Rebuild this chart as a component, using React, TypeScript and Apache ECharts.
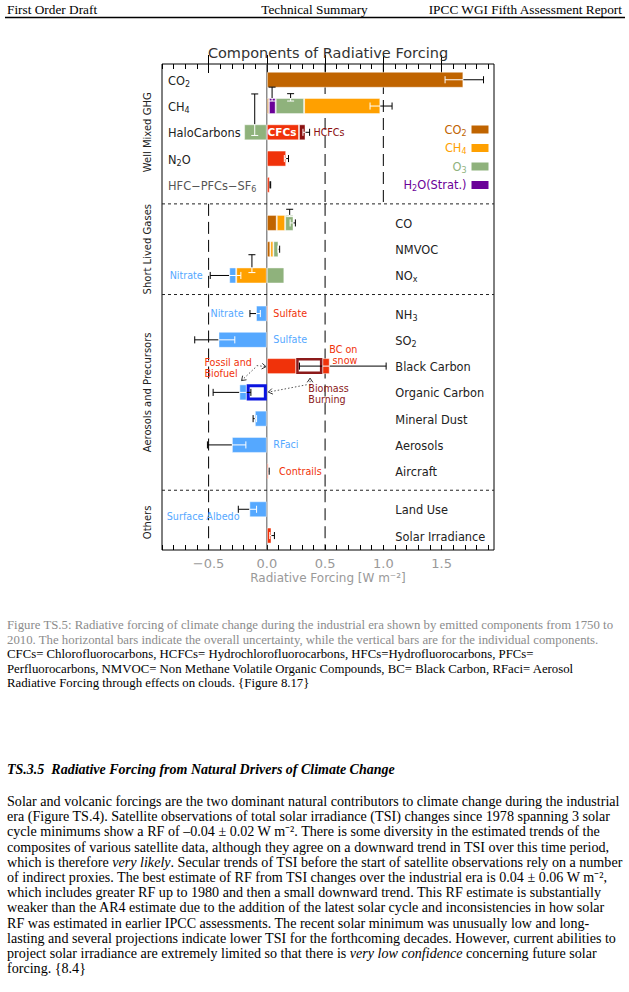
import React, { useEffect, useRef } from "react";
import * as echarts from "echarts";

// ---------------- Chart data (W m-2) ----------------
const rowNames = [
  "CO₂", "CH₄", "HaloCarbons", "N₂O", "HFC−PFCs−SF₆",
  "CO", "NMVOC", "NOₓ",
  "NH₃", "SO₂", "Black Carbon", "Organic Carbon", "Mineral Dust", "Aerosols", "Aircraft",
  "Land Use", "Solar Irradiance",
];
const rowGroup = [0, 0, 0, 0, 0, 1, 1, 1, 2, 2, 2, 2, 2, 2, 2, 3, 3];
const groupNames = ["Well Mixed GHG", "Short Lived Gases", "Aerosols and Precursors", "Others"];
const groupRefLines = [[0.5, 1.0], [-0.5, 0.5], [-0.5, 0.5], [-0.5, 0.5]];
const xTickLabels = [-0.5, 0, 0.5, 1.0, 1.5];

// segments: [row, from, to]
const co2Segments = [[0, 0, 1.687], [1, 0, 0.018], [5, 0, 0.085], [6, 0, 0.03]];
const ch4Segments = [[1, 0.32, 0.974], [5, 0.085, 0.157], [6, 0.03, 0.056], [7, -0.263, 0]];
const o3Segments = [[1, 0.076, 0.32], [2, -0.195, 0], [5, 0.157, 0.229], [6, 0.056, 0.1], [7, 0, 0.15]];
const h2oSegments = [[1, 0.018, 0.076]];
const cfcSegments = [[2, 0, 0.276]];
const hcfcSegments = [[2, 0.276, 0.332]];
const warmSegments = [[3, 0, 0.166], [4, 0, 0.025], [8, 0, 0.012], [10, 0, 0.252], [10, 0.477, 0.54], [14, 0, 0.015], [16, 0, 0.04]];
const coolSegments = [[7, -0.323, -0.263], [8, -0.093, 0], [9, -0.415, 0], [11, -0.236, -0.173], [12, -0.103, 0], [13, -0.3, 0], [15, -0.15, 0]];
const biomassBC = [[10, 0.252, 0.477]];
const biomassOC = [[11, -0.173, 0]];
// overall uncertainty: [row, low, high]
const totalUncertainty = [
  [0, 1.53, 1.86], [1, 0.886, 1.075], [2, 0.31, 0.367], [3, 0.15, 0.186], [4, 0.027, 0.033],
  [5, 0.2, 0.245], [6, 0.095, 0.11], [7, -0.486, -0.223],
  [8, -0.145, -0.056], [9, -0.619, -0.275], [10, 0.28, 1.024], [11, -0.461, -0.137], [12, -0.118, -0.088],
  [13, -0.51, -0.18], [14, 0.012, 0.02], [15, -0.245, -0.088], [16, 0.025, 0.065],
];
// individual components: [row, value, top, bottom] (top/bottom in row units from the row centre)
const componentUncertainty = [
  [1, 0.045, -0.72, -0.19], [1, 0.204, -0.47, -0.19], [2, -0.104, -1.46, 0.12],
  [5, 0.196, -0.52, -0.24], [7, -0.128, -0.79, -0.11],
];
// annotations: [text, row, row offset, value, anchor, colour key]
const notes = [
  ["CFCs", 2, 0, 0.13, "center", "white"],
  ["HCFCs", 2, 0, 0.4, "left", "hcfc"],
  ["Nitrate", 7, 0, -0.55, "right", "blue"],
  ["Nitrate", 8, 0, -0.2, "right", "blue"],
  ["Sulfate", 8, 0, 0.056, "left", "red"],
  ["Sulfate", 9, 0, 0.056, "left", "blue"],
  ["BC on", 10, -0.62, 0.777, "right", "red"],
  ["snow", 10, -0.2, 0.777, "right", "red"],
  ["Fossil and", 10, -0.13, -0.536, "left", "red"],
  ["Biofuel", 10, 0.29, -0.536, "left", "red"],
  ["Biomass", 11, -0.13, 0.356, "left", "bb"],
  ["Burning", 11, 0.29, 0.356, "left", "bb"],
  ["RFaci", 13, 0, 0.056, "left", "blue"],
  ["Contrails", 14, 0, 0.105, "left", "red"],
  ["Surface Albedo", 15, 0.28, -0.859, "left", "blue"],
];
// dotted arrows: [fromValue, fromRow, fromOffset, toValue, toRow, toOffset]
const arrows = [
  [-0.087, 10, -0.02, -0.007, 10, 0.02],
  [-0.1, 10, 0.06, -0.217, 10, 0.55],
  [0.371, 10, 0.75, 0.371, 10, 0.46],
  [0.342, 10, 0.71, 0.013, 11, -0.01],
];

// ---------------- Page text ----------------
const headerLeft = "First Order Draft";
const headerMid = "Technical Summary";
const headerRight = "IPCC WGI Fifth Assessment Report";
const captionLines = [
  "Figure TS.5: Radiative forcing of climate change during the industrial era shown by emitted components from 1750 to",
  "2010. The horizontal bars indicate the overall uncertainty, while the vertical bars are for the individual components.",
  "CFCs= Chlorofluorocarbons, HCFCs= Hydrochlorofluorocarbons, HFCs=Hydrofluorocarbons, PFCs=",
  "Perfluorocarbons, NMVOC= Non Methane Volatile Organic Compounds, BC= Black Carbon, RFaci= Aerosol",
  "Radiative Forcing through effects on clouds. {Figure 8.17}",
];
const sectionHeading = "TS.3.5  Radiative Forcing from Natural Drivers of Climate Change";
const bodyLines: (string | { i: string })[][] = [
  ["Solar and volcanic forcings are the two dominant natural contributors to climate change during the industrial"],
  ["era (Figure TS.4). Satellite observations of total solar irradiance (TSI) changes since 1978 spanning 3 solar"],
  ["cycle minimums show a RF of –0.04 ± 0.02 W m⁻². There is some diversity in the estimated trends of the"],
  ["composites of various satellite data, although they agree on a downward trend in TSI over this time period,"],
  ["which is therefore ", { i: "very likely" }, ". Secular trends of TSI before the start of satellite observations rely on a number"],
  ["of indirect proxies. The best estimate of RF from TSI changes over the industrial era is 0.04 ± 0.06 W m⁻²,"],
  ["which includes greater RF up to 1980 and then a small downward trend. This RF estimate is substantially"],
  ["weaker than the AR4 estimate due to the addition of the latest solar cycle and inconsistencies in how solar"],
  ["RF was estimated in earlier IPCC assessments. The recent solar minimum was unusually low and long-"],
  ["lasting and several projections indicate lower TSI for the forthcoming decades. However, current abilities to"],
  ["project solar irradiance are extremely limited so that there is ", { i: "very low confidence" }, " concerning future solar"],
  ["forcing. {8.4}"],
];

// ---------------- Layout / style ----------------
const X_MIN = -0.9;
const X_MAX = 1.95;
const FIRST_ROW = 0.6;
const GROUP_GAP = 1.45;
const BOTTOM_PAD = 0.55;
const BAR_H = 0.61;
const CAP_H = 0.27;
const LEFT_LABEL_X = -0.848;
const RIGHT_LABEL_X = 1.103;
const GROUP_LABEL_X = -1.028;
const FONT = "DejaVu Sans";
const SERIF = "Liberation Serif";
const BODY_SIZE = 14.1;
const LABEL_SIZE = 11.4;
const C: Record<string, string> = {
  co2: "#c06400", ch4: "#ffa000", o3: "#8fb27c", h2o: "#6a0098",
  red: "#f0320a", hcfc: "#8b1010", blue: "#55a8ff", ocEdge: "#0a14e0", bb: "#8b1a1a",
  white: "#ffffff", ink: "#222222",
};

const rowPos: number[] = [];
rowGroup.forEach((g, i) => {
  rowPos.push(i === 0 ? FIRST_ROW : rowPos[i - 1] + (g !== rowGroup[i - 1] ? GROUP_GAP : 1));
});
const Y_MAX = rowPos[rowPos.length - 1] + BOTTOM_PAD;
const dividers: number[] = [];
rowGroup.forEach((g, i) => {
  if (i > 0 && g !== rowGroup[i - 1]) dividers.push((rowPos[i] + rowPos[i - 1]) / 2);
});
const groupTop = (g: number) => (g === 0 ? 0 : dividers[g - 1]);
const groupBottom = (g: number) => (g === groupNames.length - 1 ? Y_MAX : dividers[g]);
const groupCenter = (g: number) => {
  const rs = rowPos.filter((_, i) => rowGroup[i] === g);
  return (rs[0] + rs[rs.length - 1]) / 2;
};

const solidSegments = [
  ...co2Segments, ...ch4Segments, ...o3Segments, ...h2oSegments,
  ...cfcSegments, ...hcfcSegments, ...warmSegments, ...coolSegments,
];
const isSolid = (row: number, v: number) =>
  solidSegments.some((s) => s[0] === row && v > Math.min(s[1], s[2]) && v < Math.max(s[1], s[2]));

const minorTicks: number[] = [];
for (let k = Math.round(X_MIN * 10); k <= Math.floor(X_MAX * 10); k++) minorTicks.push(k / 10);

const fmt = (v: number) => (v < 0 ? "−" : "") + Math.abs(v).toFixed(1);

// subscript characters -> rich text tokens
const SUBS: Record<string, string> = { "₀": "0", "₁": "1", "₂": "2", "₃": "3", "₄": "4", "₅": "5", "₆": "6", "₇": "7", "₈": "8", "₉": "9", "ₓ": "x" };
function toRich(label: string) {
  let out = "";
  let buf = "";
  let mode = "";
  const flush = () => { if (buf) out += `{${mode}|${buf}}`; buf = ""; };
  for (const ch of label) {
    const m = SUBS[ch] !== undefined ? "s" : "b";
    if (m !== mode) { flush(); mode = m; }
    buf += SUBS[ch] !== undefined ? SUBS[ch] : ch;
  }
  flush();
  return out;
}
function labelRich(fill: string) {
  return {
    b: { fontSize: LABEL_SIZE, fontFamily: FONT, fill, lineHeight: 15, verticalAlign: "middle" },
    s: { fontSize: 8, fontFamily: FONT, fill, lineHeight: 9, verticalAlign: "bottom" },
  };
}
function legendRich(color: string) {
  return {
    b: { fontSize: LABEL_SIZE, fontFamily: FONT, color, lineHeight: 15, verticalAlign: "middle" },
    s: { fontSize: 8, fontFamily: FONT, color, lineHeight: 9, verticalAlign: "bottom" },
  };
}

function textEl(text: string, x: number, y: number, o: any = {}) {
  const align = o.align || "left";
  return {
    type: "text",
    x, y,
    rotation: o.rotation || 0,
    style: {
      text,
      fill: o.fill || "#000",
      fontSize: o.size || 13,
      fontFamily: o.family || SERIF,
      fontStyle: o.italic ? "italic" : "normal",
      fontWeight: o.bold ? "bold" : "normal",
      align, textAlign: align,
      verticalAlign: "middle", textVerticalAlign: "middle",
      rich: o.rich,
    },
  };
}

function barSeries(name: string, parts: number[][], fill: string, stroke: string, lw: number, z: number) {
  return {
    type: "custom",
    name,
    z,
    itemStyle: { color: fill === "#ffffff" ? stroke : fill },
    data: parts.map((p) => [p[1], rowPos[p[0]], p[2]]),
    renderItem: (params: any, api: any) => {
      const y = api.value(1);
      const a = api.coord([api.value(0), y]);
      const b = api.coord([api.value(2), y]);
      const h = Math.abs(api.size([0, BAR_H])[1]);
      const x0 = Math.min(a[0], b[0]);
      const w = Math.abs(b[0] - a[0]);
      const ins = lw / 2;
      return {
        type: "rect",
        shape: { x: x0 + ins, y: a[1] - h / 2 + ins, width: Math.max(0.5, w - 2 * ins), height: h - 2 * ins },
        style: { fill, stroke, lineWidth: lw },
      };
    },
  };
}

function buildOption() {
  const line = (x1: number, y1: number, x2: number, y2: number, stroke: string, extra: any = {}) => ({
    type: "line",
    shape: { x1, y1, x2, y2 },
    style: { stroke, lineWidth: 1, ...extra },
  });

  const refLineData: number[][] = [];
  groupRefLines.forEach((vals, g) => vals.forEach((v) => refLineData.push([v, groupTop(g), groupBottom(g), 1])));
  refLineData.push([0, 0, Y_MAX, 0]);

  const series: any[] = [
    {
      type: "custom", name: "ref", z: 1, silent: true,
      data: refLineData,
      renderItem: (params: any, api: any) => {
        const d = refLineData[params.dataIndex];
        const p0 = api.coord([d[0], d[1]]);
        const p1 = api.coord([d[0], d[2]]);
        return d[3]
          ? line(p0[0], p0[1], p1[0], p1[1], "#000", { lineDash: [12, 6] })
          : line(p0[0], p0[1], p1[0], p1[1], "#555");
      },
    },
    {
      type: "custom", name: "dividers", z: 1, silent: true,
      data: dividers.map((d) => [0, d]),
      renderItem: (params: any, api: any) => {
        const cs = params.coordSys;
        const p = api.coord([0, dividers[params.dataIndex]]);
        return line(cs.x, p[1], cs.x + cs.width, p[1], "#222", { lineDash: [3, 3] });
      },
    },
    barSeries("CO₂", co2Segments, C.co2, "rgba(255,255,255,0.45)", 1, 3),
    barSeries("CH₄", ch4Segments, C.ch4, "rgba(255,255,255,0.45)", 1, 3),
    barSeries("O₃", o3Segments, C.o3, "rgba(255,255,255,0.45)", 1, 3),
    barSeries("H₂O(Strat.)", h2oSegments, C.h2o, "rgba(255,255,255,0.45)", 1, 3),
    barSeries("CFCs", cfcSegments, C.red, "rgba(255,255,255,0.45)", 1, 3),
    barSeries("HCFCs", hcfcSegments, C.hcfc, "rgba(255,255,255,0.45)", 1, 3),
    barSeries("Warming", warmSegments, C.red, "rgba(255,255,255,0.45)", 1, 3),
    barSeries("Cooling", coolSegments, C.blue, "rgba(255,255,255,0.45)", 1, 3),
    barSeries("Biomass BC", biomassBC, "#ffffff", C.bb, 2.5, 3),
    barSeries("Biomass OC", biomassOC, "#ffffff", C.ocEdge, 3, 3),
    {
      type: "custom", name: "total uncertainty", z: 5, silent: true,
      data: totalUncertainty.map((d) => [d[1], rowPos[d[0]], d[2]]),
      renderItem: (params: any, api: any) => {
        const [row, lo, hi] = totalUncertainty[params.dataIndex];
        const y = rowPos[row];
        const cuts = [lo, hi];
        solidSegments.forEach((s) => {
          if (s[0] !== row) return;
          [s[1], s[2]].forEach((e) => { if (e > lo && e < hi) cuts.push(e); });
        });
        cuts.sort((a, b) => a - b);
        const capH = Math.abs(api.size([0, CAP_H])[1]);
        const children: any[] = [];
        for (let k = 0; k < cuts.length - 1; k++) {
          const m = (cuts[k] + cuts[k + 1]) / 2;
          const p0 = api.coord([cuts[k], y]);
          const p1 = api.coord([cuts[k + 1], y]);
          children.push(line(p0[0], p0[1], p1[0], p1[1], isSolid(row, m) ? "#fff" : "#000"));
        }
        [lo, hi].forEach((v, j) => {
          const p = api.coord([v, y]);
          const inner = j === 0 ? v + 1e-4 : v - 1e-4;
          children.push(line(p[0], p[1] - capH / 2, p[0], p[1] + capH / 2, isSolid(row, inner) ? "#fff" : "#000"));
        });
        return { type: "group", children };
      },
    },
    {
      type: "custom", name: "component uncertainty", z: 5, silent: true,
      data: componentUncertainty.map((d) => [d[1], rowPos[d[0]]]),
      renderItem: (params: any, api: any) => {
        const [row, v, top, bottom] = componentUncertainty[params.dataIndex];
        const yc = rowPos[row];
        const barTop = yc - BAR_H / 2;
        const solid = isSolid(row, v);
        const cuts = [yc + top, yc + bottom];
        if (barTop > cuts[0] && barTop < cuts[1]) cuts.splice(1, 0, barTop);
        const colorAt = (yy: number) => (solid && yy > barTop && yy < yc + BAR_H / 2 ? "#fff" : "#000");
        const children: any[] = [];
        for (let k = 0; k < cuts.length - 1; k++) {
          const p0 = api.coord([v, cuts[k]]);
          const p1 = api.coord([v, cuts[k + 1]]);
          children.push(line(p0[0], p0[1], p1[0], p1[1], colorAt((cuts[k] + cuts[k + 1]) / 2)));
        }
        [yc + top, yc + bottom].forEach((yy, j) => {
          const p = api.coord([v, yy]);
          children.push(line(p[0] - 3.5, p[1], p[0] + 3.5, p[1], colorAt(j === 0 ? yy + 1e-3 : yy - 1e-3)));
        });
        return { type: "group", children };
      },
    },
    {
      type: "custom", name: "arrows", z: 5, silent: true,
      data: arrows.map((a) => [a[0], rowPos[a[1]] + a[2]]),
      renderItem: (params: any, api: any) => {
        const a = arrows[params.dataIndex];
        const p0 = api.coord([a[0], rowPos[a[1]] + a[2]]);
        const p1 = api.coord([a[3], rowPos[a[4]] + a[5]]);
        const ang = Math.atan2(p1[1] - p0[1], p1[0] - p0[0]);
        const L = 5;
        const head = [
          [p1[0] - L * Math.cos(ang - 0.6), p1[1] - L * Math.sin(ang - 0.6)],
          [p1[0], p1[1]],
          [p1[0] - L * Math.cos(ang + 0.6), p1[1] - L * Math.sin(ang + 0.6)],
        ];
        return {
          type: "group",
          children: [
            line(p0[0], p0[1], p1[0], p1[1], "#555", { lineDash: [1.5, 2] }),
            { type: "polyline", shape: { points: head }, style: { stroke: "#333", fill: "none", lineWidth: 1 } },
          ],
        };
      },
    },
    {
      type: "custom", name: "row labels", z: 6, silent: true,
      data: rowNames.map((_, i) => [rowGroup[i] === 0 ? LEFT_LABEL_X : RIGHT_LABEL_X, rowPos[i]]),
      renderItem: (params: any, api: any) => {
        const i = params.dataIndex;
        const p = api.coord([rowGroup[i] === 0 ? LEFT_LABEL_X : RIGHT_LABEL_X, rowPos[i]]);
        const fill = i === 4 ? "#555" : C.ink;
        return textEl(toRich(rowNames[i]), p[0], p[1] + 1, { family: FONT, size: LABEL_SIZE, fill, rich: labelRich(fill) });
      },
    },
    {
      type: "custom", name: "group labels", z: 6, silent: true,
      data: groupNames.map((_, g) => [GROUP_LABEL_X, groupCenter(g)]),
      renderItem: (params: any, api: any) => {
        const g = params.dataIndex;
        const p = api.coord([GROUP_LABEL_X, groupCenter(g)]);
        return textEl(groupNames[g], p[0], p[1], { family: FONT, size: 10, fill: C.ink, align: "center", rotation: Math.PI / 2 });
      },
    },
    {
      type: "custom", name: "notes", z: 6, silent: true,
      data: notes.map((n) => [n[3] as number, rowPos[n[1] as number] + (n[2] as number)]),
      renderItem: (params: any, api: any) => {
        const n = notes[params.dataIndex];
        const p = api.coord([n[3] as number, rowPos[n[1] as number] + (n[2] as number)]);
        return textEl(n[0] as string, p[0], p[1], {
          family: FONT, size: n[0] === "CFCs" ? 10.5 : 9.6, fill: C[n[5] as string],
          align: n[4], bold: n[0] === "CFCs",
        });
      },
    },
  ];

  const axisBase = { type: "value", min: X_MIN, max: X_MAX, splitLine: { show: false }, axisLine: { show: false } };
  const major = { show: true, inside: true, length: 9, customValues: xTickLabels, lineStyle: { color: "#000", width: 1 } };
  const minor = { show: true, inside: true, length: 5, customValues: minorTicks, lineStyle: { color: "#000", width: 1 } };

  const bodyRich = {
    n: { fontSize: BODY_SIZE, fontFamily: SERIF, fill: "#000" },
    i: { fontSize: BODY_SIZE, fontFamily: SERIF, fill: "#000", fontStyle: "italic" },
  };

  const graphics: any[] = [
    textEl(headerLeft, 7, 9, { size: 13.3 }),
    textEl(headerMid, 314.5, 9, { size: 13.3, align: "center" }),
    textEl(headerRight, 622, 9, { size: 13.3, align: "right" }),
    { type: "line", shape: { x1: 5, y1: 17.5, x2: 625, y2: 17.5 }, style: { stroke: "#000", lineWidth: 1.5 } },
    ...captionLines.map((t, k) => textEl(t, 7, 625 + 14.5 * k, { size: 12.8, fill: k < 2 ? "#8c8c8c" : "#000" })),
    textEl(sectionHeading, 7, 769, { size: 14, bold: true, italic: true }),
    ...bodyLines.map((segs, k) => {
      const hasRich = segs.some((s) => typeof s !== "string");
      const text = hasRich
        ? segs.map((s) => (typeof s === "string" ? `{n|${s}}` : `{i|${s.i}}`)).join("")
        : (segs[0] as string);
      return textEl(text, 7, 801 + 15.2 * k, { size: BODY_SIZE, rich: hasRich ? bodyRich : undefined });
    }),
  ];

  const legendItems = [
    { name: "CO₂", color: C.co2 },
    { name: "CH₄", color: C.ch4 },
    { name: "O₃", color: C.o3 },
    { name: "H₂O(Strat.)", color: C.h2o },
  ];

  return {
    animation: false,
    backgroundColor: "#ffffff",
    textStyle: { fontFamily: FONT },
    title: {
      text: "Components of Radiative Forcing",
      left: 328, top: 45, textAlign: "center", padding: 0,
      textStyle: { fontSize: 14.5, fontWeight: "normal", color: "#333", fontFamily: FONT },
    },
    legend: {
      show: true, orient: "vertical", right: 140.5, top: 124, align: "right",
      itemWidth: 17, itemHeight: 8, itemGap: 5.5, padding: 0, selectedMode: false, icon: "rect",
      textStyle: { fontSize: LABEL_SIZE, fontFamily: FONT },
      formatter: (name: string) => toRich(name),
      data: legendItems.map((it) => ({ name: it.name, textStyle: { color: it.color, rich: legendRich(it.color) } })),
    },
    grid: {
      left: 162, top: 64, width: 332, height: 486, show: true,
      borderColor: "#000", borderWidth: 1, backgroundColor: "transparent",
      containLabel: false, outerBoundsMode: "none",
    },
    xAxis: [
      {
        ...axisBase, position: "bottom", axisTick: major,
        axisLabel: { show: true, customValues: xTickLabels, formatter: fmt, margin: 7, fontSize: 13, color: "#999", fontFamily: FONT },
        name: "Radiative Forcing [W m⁻²]", nameLocation: "middle", nameGap: 22,
        nameTextStyle: { fontSize: 12, color: "#999", fontFamily: FONT },
      },
      { ...axisBase, position: "bottom", axisTick: minor, axisLabel: { show: false } },
      { ...axisBase, position: "top", axisTick: major, axisLabel: { show: false } },
      { ...axisBase, position: "top", axisTick: minor, axisLabel: { show: false } },
    ],
    yAxis: { type: "value", min: 0, max: Y_MAX, inverse: true, show: false },
    graphic: { elements: graphics },
    series,
  };
}

export default function App() {
  const ref = useRef<HTMLDivElement>(null);
  useEffect(() => {
    const chart = echarts.init(ref.current!, null, { renderer: "svg" });
    chart.setOption(buildOption() as any);
    return () => chart.dispose();
  }, []);
  return (
    <div
      ref={ref}
      style={{ position: "absolute", left: 0, top: 0, width: 629, height: 992, background: "#fff" }}
    />
  );
}
